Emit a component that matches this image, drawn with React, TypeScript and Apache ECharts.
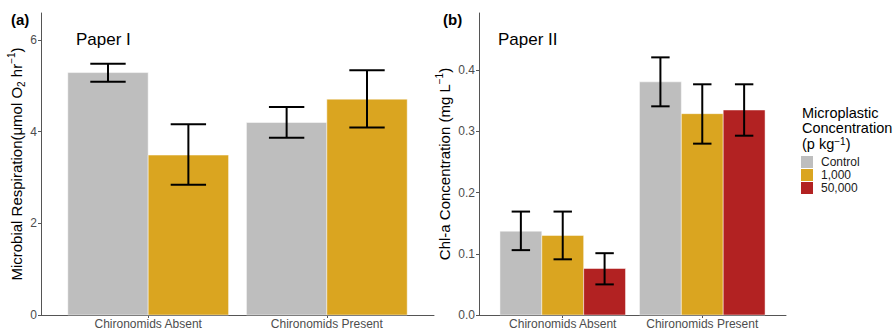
import React, { useEffect, useRef } from "react";
import * as echarts from "echarts";

const categories = ["Chironomids Absent", "Chironomids Present"];
const treatments = ["Control", "1,000", "50,000"];
const treatmentColors = ["#BEBEBE", "#DAA520", "#B22222"];

// Panel (a): Microbial respiration
const respControl = [5.29, 4.2];
const respControlLo = [5.09, 3.87];
const respControlHi = [5.48, 4.54];
const resp1000 = [3.49, 4.71];
const resp1000Lo = [2.84, 4.09];
const resp1000Hi = [4.16, 5.34];
const respTicks = [0, 2, 4, 6];

// Panel (b): Chl-a concentration
const chlaControl = [0.137, 0.381];
const chlaControlLo = [0.106, 0.341];
const chlaControlHi = [0.169, 0.421];
const chla1000 = [0.13, 0.329];
const chla1000Lo = [0.091, 0.28];
const chla1000Hi = [0.169, 0.377];
const chla50000 = [0.076, 0.335];
const chla50000Lo = [0.05, 0.293];
const chla50000Hi = [0.101, 0.377];
const chlaTicks = [0, 0.1, 0.2, 0.3, 0.4];

const FONT = "'Liberation Sans', Arial, Helvetica, sans-serif";

function makeSeries(
  name: string,
  color: string,
  means: number[],
  lo: number[],
  hi: number[],
  j: number,
  k: number,
  axisIndex: number
) {
  return {
    type: "custom",
    name,
    xAxisIndex: axisIndex,
    yAxisIndex: axisIndex,
    itemStyle: { color },
    encode: { x: 0, y: 1 },
    data: means.map((m, i) => [i + 1, m, lo[i], hi[i]]),
    renderItem: (params: any, api: any) => {
      const bw = 0.9 / k;
      const off = -0.45 + (j + 0.5) * bw;
      const xc = api.value(0) + off;
      const pTop = api.coord([xc - bw / 2, api.value(1)]);
      const pBase = api.coord([xc + bw / 2, 0]);
      const pHi = api.coord([xc, api.value(3)]);
      const pLo = api.coord([xc, api.value(2)]);
      const cap = (bw * 0.44) / 2;
      const cl = api.coord([xc - cap, 0])[0];
      const cr = api.coord([xc + cap, 0])[0];
      const lineStyle = { stroke: "#000", lineWidth: 2 };
      return {
        type: "group",
        children: [
          {
            type: "rect",
            shape: {
              x: pTop[0],
              y: pTop[1],
              width: pBase[0] - pTop[0],
              height: pBase[1] - pTop[1],
            },
            style: { fill: color, stroke: "rgba(255,255,255,0.6)", lineWidth: 0.8 },
          },
          { type: "line", shape: { x1: pHi[0], y1: pHi[1], x2: pLo[0], y2: pLo[1] }, style: lineStyle },
          { type: "line", shape: { x1: cl, y1: pHi[1], x2: cr, y2: pHi[1] }, style: lineStyle },
          { type: "line", shape: { x1: cl, y1: pLo[1], x2: cr, y2: pLo[1] }, style: lineStyle },
        ],
      };
    },
  };
}

const axisLineColor = "#555555";
const tickLabelColor = "#4D4D4D";

function xAxisFor(gridIndex: number) {
  return {
    type: "value",
    gridIndex,
    min: 0.4,
    max: 2.6,
    splitLine: { show: false },
    axisLine: { show: true, lineStyle: { color: axisLineColor, width: 1 } },
    axisTick: { show: true, customValues: [1, 2], length: 3, lineStyle: { color: axisLineColor } },
    axisLabel: {
      customValues: [1, 2],
      formatter: (v: number) => categories[Math.round(v) - 1] ?? "",
      fontSize: 12,
      color: tickLabelColor,
      fontFamily: FONT,
      margin: 3,
    },
  };
}

export default function App() {
  const ref = useRef<HTMLDivElement>(null);
  useEffect(() => {
    document.body.style.margin = "0";
    if (!ref.current) return;
    const chart = echarts.init(ref.current, null, { renderer: "svg", width: 896, height: 330 });
    const supRich = {
      sup: { fontSize: 10, verticalAlign: "top", lineHeight: 10, fontFamily: FONT, color: "#000" },
      sub: { fontSize: 10, verticalAlign: "bottom", lineHeight: 10, fontFamily: FONT, color: "#000", padding: [6, 0, 0, 0] },
    };
    chart.setOption({
      animation: false,
      textStyle: { fontFamily: FONT },
      grid: [
        { left: 41, right: 896 - 434, top: 13, bottom: 14, containLabel: false },
        { left: 479, right: 896 - 786, top: 13, bottom: 14, containLabel: false },
      ],
      xAxis: [xAxisFor(0), xAxisFor(1)],
      yAxis: [
        {
          type: "value",
          gridIndex: 0,
          min: 0,
          max: 6.59,
          splitLine: { show: false },
          axisLine: { show: true, lineStyle: { color: axisLineColor, width: 1 } },
          axisTick: { show: true, customValues: respTicks, length: 3, lineStyle: { color: axisLineColor } },
          axisLabel: { customValues: respTicks, fontSize: 12, color: tickLabelColor, fontFamily: FONT, margin: 4 },
          name: "Microbial Respiration(μmol O{sub|2} hr{sup|−1})",
          nameLocation: "middle",
          nameGap: 13,
          nameTextStyle: { fontSize: 15, color: "#000", fontFamily: FONT, lineHeight: 20, rich: supRich },
        },
        {
          type: "value",
          gridIndex: 1,
          min: 0,
          max: 0.4935,
          splitLine: { show: false },
          axisLine: { show: true, lineStyle: { color: axisLineColor, width: 1 } },
          axisTick: { show: true, customValues: chlaTicks, length: 3, lineStyle: { color: axisLineColor } },
          axisLabel: {
            customValues: chlaTicks,
            formatter: (v: number) => v.toFixed(1),
            fontSize: 12,
            color: tickLabelColor,
            fontFamily: FONT,
            margin: 4,
          },
          name: "Chl-a Concentration (mg L{sup|−1})",
          nameLocation: "middle",
          nameGap: 23,
          nameTextStyle: { fontSize: 15, color: "#000", fontFamily: FONT, lineHeight: 20, rich: supRich },
        },
      ],
      legend: {
        left: 801,
        top: 156,
        orient: "vertical",
        padding: 0,
        itemWidth: 12,
        itemHeight: 12,
        itemGap: 1,
        icon: "rect",
        data: treatments,
        selectedMode: false,
        textStyle: { fontSize: 12, color: "#1A1A1A", fontFamily: FONT, padding: [0, 0, 0, 3] },
      },
      graphic: [
        { type: "text", left: 11, top: 12, style: { text: "(a)", fill: "#000", font: `bold 15px ${FONT}` } },
        { type: "text", left: 443, top: 12, style: { text: "(b)", fill: "#000", font: `bold 15px ${FONT}` } },
        { type: "text", left: 76, top: 31, style: { text: "Paper I", font: `17px ${FONT}`, fill: "#000" } },
        { type: "text", left: 498, top: 31, style: { text: "Paper II", font: `17px ${FONT}`, fill: "#000" } },
        {
          type: "text",
          left: 802,
          top: 105,
          style: {
            text: "Microplastic\nConcentration\n(p kg{sup|−1})",
            font: `14.5px ${FONT}`,
            fill: "#000",
            lineHeight: 15.5,
            rich: { sup: { fontSize: 10, verticalAlign: "top", lineHeight: 15.5, fill: "#000", fontFamily: FONT } },
          },
        },
      ],
      series: [
        makeSeries(treatments[0], treatmentColors[0], respControl, respControlLo, respControlHi, 0, 2, 0),
        makeSeries(treatments[1], treatmentColors[1], resp1000, resp1000Lo, resp1000Hi, 1, 2, 0),
        makeSeries(treatments[0], treatmentColors[0], chlaControl, chlaControlLo, chlaControlHi, 0, 3, 1),
        makeSeries(treatments[1], treatmentColors[1], chla1000, chla1000Lo, chla1000Hi, 1, 3, 1),
        makeSeries(treatments[2], treatmentColors[2], chla50000, chla50000Lo, chla50000Hi, 2, 3, 1),
      ],
    });
    return () => chart.dispose();
  }, []);
  return <div ref={ref} style={{ width: 896, height: 330 }} />;
}
